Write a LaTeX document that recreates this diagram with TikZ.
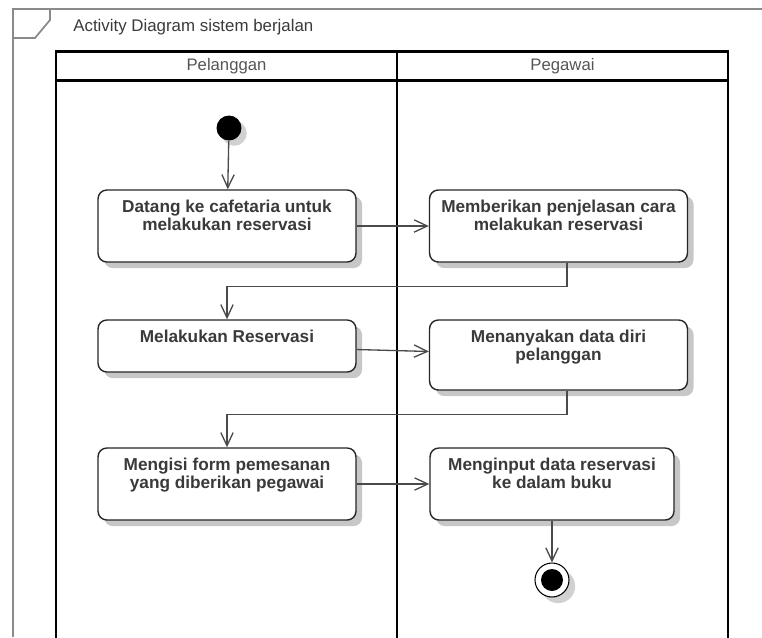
\documentclass[tikz,border=0pt]{standalone}
\usepackage{fontspec}
\setmainfont{Liberation Sans}
\usetikzlibrary{arrows.meta,shadows}
\definecolor{framegray}{HTML}{8A8A8A}
\definecolor{txtgray}{HTML}{3A3A3A}
\definecolor{headgray}{HTML}{555555}
\definecolor{flowgray}{HTML}{4A4A4A}

\tikzset{
  act/.style={draw=black!85, line width=0.8pt, fill=white, rounded corners=5pt,
    minimum width=5.16cm, inner sep=0pt,
    drop shadow={shadow xshift=3.5pt, shadow yshift=-3.5pt, fill=black!22, opacity=1}},
  acttxt/.style={anchor=north, align=center, font=\bfseries\fontsize{9.8}{10}\selectfont,
    text=txtgray, inner sep=0pt, yshift=-6pt},
  flow/.style={draw=flowgray, line width=0.75pt, -{Straight Barb[length=7.5pt,width=7pt]}},
  lane/.style={line width=1.7pt},
  lanehead/.style={text=headgray, font=\fontsize{9.5}{10}\selectfont},
}

\begin{document}
\begin{tikzpicture}[x=0.02cm, y=-0.02cm]
  \useasboundingbox (0,0) rectangle (762,637);

  % frame of the diagram
  \draw[framegray, line width=1pt] (13,637) -- (13,9) -- (762,9);
  \draw[framegray, line width=1pt] (13,38) -- (35,38) -- (50,20) -- (50,9);
  \node[anchor=base west, inner sep=0pt, text=txtgray, font=\fontsize{9.6}{10}\selectfont] (title) at (73,31) {Activity Diagram sistem berjalan};

  % swimlanes
  \draw[lane] (56,640) |- (728,51) -- (728,640);
  \draw[lane] (56,80) -- (728,80);
  \draw[lane] (397,51) -- (397,640);
  \node[lanehead] (pelanggan) at (226.5,66) {Pelanggan};
  \node[lanehead] (pegawai) at (562.5,66) {Pegawai};

  % start
  \node[circle, fill=black, minimum size=0.5cm, inner sep=0pt,
    drop shadow={shadow xshift=3pt, shadow yshift=-3pt, fill=black!18, opacity=1}] (start) at (229,128) {};

  % activities
  \node[act, minimum height=1.44cm, label={[acttxt]north:{Datang ke cafetaria untuk\\melakukan reservasi}}] (datang) at (227,226) {};
  \node[act, minimum height=1.44cm, label={[acttxt]north:{Memberikan penjelasan cara\\melakukan reservasi}}] (jelaskan) at (558.5,226) {};
  \node[act, minimum height=1.04cm, label={[acttxt]north:{Melakukan Reservasi}}] (reservasi) at (227,346) {};
  \node[act, minimum height=1.4cm, label={[acttxt]north:{Menanyakan data diri\\pelanggan}}] (tanya) at (558.5,355) {};
  \node[act, minimum height=1.44cm, label={[acttxt]north:{Mengisi form pemesanan\\yang diberikan pegawai}}] (isi) at (227,484) {};
  \node[act, minimum height=1.44cm, minimum width=4.88cm, label={[acttxt]north:{Menginput data reservasi\\ke dalam buku}}] (input) at (552,484) {};

  % end
  \node[circle, draw=black, line width=0.6pt, fill=white, minimum size=0.68cm, inner sep=0pt,
    drop shadow={shadow xshift=3.5pt, shadow yshift=-3.5pt, fill=black!18, opacity=1}] (end) at (552,580) {};
  \node[circle, fill=black, minimum size=0.44cm, inner sep=0pt] (endin) at (end) {};

  % flows
  \draw[flow] (start) -- (datang);
  \draw[flow] (datang) -- (jelaskan);
  \draw[flow] ([xshift=0.17cm]jelaskan.south) -- ++(0,24) -| (reservasi.north);
  \draw[flow] (reservasi) -- (tanya);
  \draw[flow] ([xshift=0.17cm]tanya.south) -- ++(0,24) -| (isi.north);
  \draw[flow] (isi) -- (input);
  \draw[flow] (input) -- (end);
\end{tikzpicture}
\end{document}
